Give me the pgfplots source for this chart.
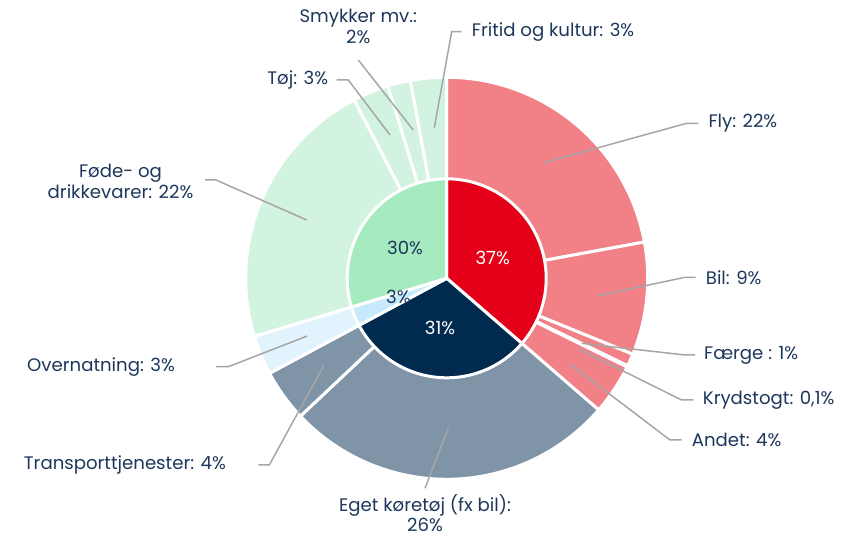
\documentclass[border=0pt]{standalone}
\usepackage{fontspec}
\setmainfont{Poppins}
\usepackage{pgfplots}
\pgfplotsset{compat=1.18}
\definecolor{txt}{HTML}{1D375C}
\definecolor{lead}{HTML}{A6A6A6}
\definecolor{redI}{HTML}{E30018}
\definecolor{redO}{HTML}{F18087}
\definecolor{navI}{HTML}{012A4F}
\definecolor{navO}{HTML}{8094A8}
\definecolor{bluI}{HTML}{C6E9FC}
\definecolor{bluO}{HTML}{E1F4FD}
\definecolor{grnI}{HTML}{A6EBC0}
\definecolor{grnO}{HTML}{D1F3DF}
% wedge: start angle, end angle (degrees clockwise from top), radius, colour
\newcommand{\wedgeplot}[4]{%
  \addplot[fill=#4, draw=white, line width=3bp, line join=round, domain=#1:#2, samples=80, variable=\t]
    ({#3*sin(\t)},{#3*cos(\t)}) -- (axis cs:0,0) -- cycle;}
\newcommand{\lbl}{\fontsize{18.2}{21.5}\selectfont}
\begin{document}
\begin{tikzpicture}
\useasboundingbox (0,0) rectangle (843bp,539bp);
\begin{axis}[hide axis, scale only axis, x=1bp, y=1bp,
  xmin=-446.7, xmax=396.3, ymin=-260.7, ymax=278.3, clip=false]
% outer ring (angles from shares: Fly 22, Bil 9, Faerge 1, Krydstogt 0.1, Andet 4,
% Eget koeretoej 26.6, Transport 4.2, Overnatning 3.1, Foede 22.1, Toej 2.9, Smykker 1.8, Fritid 2.9)
\wedgeplot{0}{79.6}{201}{redO}
\wedgeplot{79.6}{112.2}{201}{redO}
\wedgeplot{112.2}{115.8}{201}{redO}
\wedgeplot{115.8}{116.2}{201}{redO}
\wedgeplot{116.2}{130.9}{201}{redO}
\wedgeplot{130.9}{226.7}{201}{navO}
\wedgeplot{226.7}{241.8}{201}{navO}
\wedgeplot{241.8}{253.2}{201}{bluO}
\wedgeplot{253.2}{332.6}{201}{grnO}
\wedgeplot{332.6}{343.0}{201}{grnO}
\wedgeplot{343.0}{349.6}{201}{grnO}
\wedgeplot{349.6}{360}{201}{grnO}
% inner pie: 37, 31, 3, 30
\wedgeplot{0}{130.9}{99.5}{redI}
\wedgeplot{130.9}{241.8}{99.5}{navI}
\wedgeplot{241.8}{253.2}{99.5}{bluI}
\wedgeplot{253.2}{360}{99.5}{grnI}
% leader lines
\addplot[lead, line width=1.5bp, no marks] coordinates {(-12.4,150.6) (5,246.6) (15,246.6)};
\addplot[lead, line width=1.5bp, no marks] coordinates {(-33.4,148.3) (-88.4,218.3)};
\addplot[lead, line width=1.5bp, no marks] coordinates {(-56.7,143.3) (-98.4,198.3) (-110,198.3)};
\addplot[lead, line width=1.5bp, no marks] coordinates {(-140,58.3) (-230.7,98.3) (-241.7,98.3)};
\addplot[lead, line width=1.5bp, no marks] coordinates {(-139.4,-57.7) (-218.4,-88.4) (-230.7,-88.4)};
\addplot[lead, line width=1.5bp, no marks] coordinates {(-122.7,-86.7) (-177.4,-186.7) (-188.4,-186.7)};
\addplot[lead, line width=1.5bp, no marks] coordinates {(1.6,-150) (-21.7,-210)};
\addplot[lead, line width=1.5bp, no marks] coordinates {(97.3,115.6) (240,155) (251.6,155)};
\addplot[lead, line width=1.5bp, no marks] coordinates {(150,-17.7) (238.3,1) (249,1)};
\addplot[lead, line width=1.5bp, no marks] coordinates {(135,-65) (238.3,-76.7) (248.3,-76.7)};
\addplot[lead, line width=1.5bp, no marks] coordinates {(132.6,-71) (235,-121.7) (246.6,-121.7)};
\addplot[lead, line width=1.5bp, no marks] coordinates {(123.3,-85.7) (223.3,-161.7) (235,-161.7)};
% labels
\begin{scope}[every node/.style={text=txt, inner sep=0pt, font=\lbl}]
\node[anchor=west] at (axis cs:261.6,155) {Fly: 22\%};
\node[anchor=west] at (axis cs:259,1) {Bil: 9\%};
\node[anchor=west] at (axis cs:257.3,-76.7) {Færge : 1\%};
\node[anchor=west] at (axis cs:256,-121.7) {Krydstogt: 0,1\%};
\node[anchor=west] at (axis cs:245,-161.7) {Andet: 4\%};
\node[anchor=base] at (axis cs:-21.7,-233.5) {Eget køretøj (fx bil):};
\node[anchor=base] at (axis cs:-21.7,-253.5) {26\%};
\node[anchor=east] at (axis cs:-220.7,-186.7) {Transporttjenester: 4\%};
\node[anchor=east] at (axis cs:-271.7,-88.4) {Overnatning: 3\%};
\node[align=center] at (axis cs:-326.2,96.8) {Føde- og\\drikkevarer: 22\%};
\node[anchor=east] at (axis cs:-118.4,198.3) {Tøj: 3\%};
\node[align=center] at (axis cs:-88.4,251.8) {Smykker mv.:\\2\%};
\node[anchor=west] at (axis cs:25,246.6) {Fritid og kultur: 3\%};
\node[text=white] at (axis cs:46,20.6) {37\%};
\node at (axis cs:-41.7,30.6) {30\%};
\node[text=white] at (axis cs:-6.7,-50) {31\%};
\node at (axis cs:-48.4,-19) {3\%};
\end{scope}
\end{axis}
\end{tikzpicture}
\end{document}
